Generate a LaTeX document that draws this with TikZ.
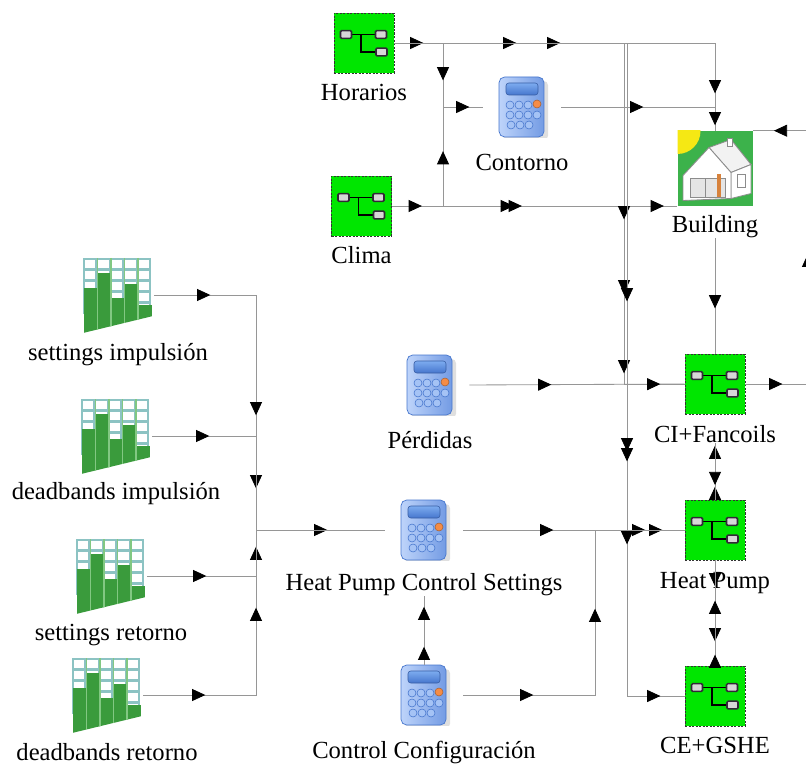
\documentclass[tikz,border=0pt]{standalone}
\usepackage{fontspec}
\setmainfont{Liberation Serif}
\usetikzlibrary{positioning,arrows.meta,decorations.markings}

\definecolor{tcgreen}{RGB}{0,230,0}
\definecolor{wirec}{RGB}{150,150,150}
\definecolor{sqfill}{RGB}{215,215,215}
\definecolor{sqedge}{RGB}{50,40,55}
\definecolor{calcL}{RGB}{190,212,250}
\definecolor{calcR}{RGB}{115,155,228}
\definecolor{calcT}{RGB}{125,172,240}
\definecolor{calcD}{RGB}{70,118,205}
\definecolor{calcB}{RGB}{165,195,245}
\definecolor{calcO}{RGB}{245,140,70}
\definecolor{bldgreen}{RGB}{60,178,75}
\definecolor{sun}{RGB}{245,232,20}
\definecolor{doororange}{RGB}{215,130,60}
\definecolor{bargreen}{RGB}{58,155,60}
\definecolor{barline}{RGB}{130,200,130}
\definecolor{cellline}{RGB}{140,195,195}

\newcommand\lblfont{\fontsize{17.5}{20}\selectfont}

\tikzset{
  >={Triangle[length=0.33cm,width=0.3cm,color=black]},
  wire/.style={draw=wirec, line width=0.6pt},
  % arrow heads along a wire, distance from its start in px
  arr/.style={postaction={decorate,decoration={markings,
      mark=at position #1*0.025cm with {\arrow{>}}}}},
  lbl/.style={font=\lblfont, text=black, inner sep=0pt},
  housel/.style={draw=black!45, line width=0.6pt},
  % equation/type boxes
  tcbox/.style={draw=black!80, dash pattern=on 1.5pt off 1pt, line width=0.5pt,
    fill=tcgreen, minimum width=1.5cm, minimum height=1.5cm, inner sep=0pt,
    path picture={
      \begin{scope}[shift={(path picture bounding box.center)}, solid]
        \draw[black, line width=1.3pt] (-12,-8.5) -- (11,-8.5) (-3,-8.5) -- (-3,9) -- (12,9);
        \foreach \x/\y in {-18/-8.5, 17/-8.5, 17.5/9}
          \draw[fill=sqfill, draw=sqedge, line width=1.1pt, rounded corners=0.8pt]
            (\x,\y) +(-5.5,-3.8) rectangle +(5.5,3.8);
      \end{scope}}},
  % calculators
  calc/.style={minimum width=1.95cm, minimum height=1.5cm, inner sep=0pt,
    path picture={
      \begin{scope}[shift={(path picture bounding box.center)}]
        \fill[black!35, opacity=0.35, rounded corners=3pt] (-19,-26) rectangle (26,33);
        \draw[draw=calcD, line width=0.5pt, left color=calcL, right color=calcR,
          rounded corners=4pt] (-23,-30) rectangle (22,30);
        \draw[draw=calcD!80!black, line width=0.4pt, top color=calcT, bottom color=calcD,
          rounded corners=2pt] (-16,-24) rectangle (16,-12);
        \foreach \x/\y in {-12/-2, -3/-2, 6/-2, -12/8, -3/8, 6/8, 15/8, -11/18, -2/18, 7/18}
          \draw[fill=calcB, draw=calcD, line width=0.4pt] (\x,\y) circle (4);
        \draw[fill=calcO, draw=calcO!70!black, line width=0.4pt] (15,-3) circle (4);
      \end{scope}}},
  % the building
  bld/.style={minimum width=1.875cm, minimum height=1.875cm, inner sep=0pt,
    fill=bldgreen,
    path picture={
      \begin{scope}[shift={(path picture bounding box.center)}]
        \fill[sun] (-37.5,-37.5) circle (23);
        \draw[housel, fill=black!5] (-6,-21) -- (16,-29) -- (36,-4) -- (16,4) -- cycle;
        \draw[housel, fill=white] (16,4) -- (36,-4) -- (36,25) -- (16,30) -- cycle;
        \draw[housel, fill=white] (-32,32) -- (-32,7) -- (-6,-21) -- (16,4) -- (16,30) -- cycle;
        \draw[housel, fill=black!10] (-25,10) rectangle (10,29);
        \draw[housel] (-10,10) -- (-10,29);
        \fill[doororange] (2,6) rectangle (6,29);
        \draw[housel, fill=white] (12,-30) rectangle (17,-22);
        \draw[housel, fill=white] (22,6) rectangle (30,19);
      \end{scope}}},
  % data readers
  reader/.style={minimum width=1.8cm, minimum height=1.875cm, inner sep=0pt,
    path picture={
      \begin{scope}[shift={(path picture bounding box.center)}]
        \clip (-35,-37) -- (35,-37) -- (35,21) -- (-35,38) -- cycle;
        \foreach \i in {0,...,4}
          \foreach \j in {0,...,4}
            \draw[cellline, fill=white, line width=0.8pt]
              (-34+13.5*\i,-36+11*\j) rectangle ++(12,10);
        \foreach \i/\t in {0/-7, 1/-22, 2/3, 3/-11, 4/10}
          \fill[bargreen] (-34+13.5*\i,\t) rectangle ++(13.5,60);
        \foreach \i in {1,...,4}
          \draw[barline, line width=0.8pt] (-34+13.5*\i,-37) -- (-34+13.5*\i,40);
      \end{scope}}},
}

\begin{document}
\begin{tikzpicture}[x=0.025cm, y=-0.025cm]
\path[use as bounding box, fill=white] (0,0) rectangle (806,766);

% components
\node[tcbox] (hor) at (364,43) {};
\node[tcbox] (clima) at (361.5,206) {};
\node[calc] (cont) at (522,107) {};
\node[bld] (bld) at (715,168.5) {};
\node[calc] (perd) at (430,385) {};
\node[tcbox] (ci) at (715,384) {};
\node[tcbox] (hp) at (715,530) {};
\node[tcbox] (ce) at (715,696) {};
\node[calc] (hpcs) at (424,530) {};
\node[calc] (ccfg) at (424,695) {};
\node[reader] (simp) at (118,295) {};
\node[reader] (dimp) at (116,436) {};
\node[reader] (sret) at (111,576) {};
\node[reader] (dret) at (107,695) {};

% names under the icons
\node[lbl, below=0.27cm of hor] (horl) {Horarios};
\node[lbl, below=0.25cm of clima] (climal) {Clima};
\node[lbl, below=0.42cm of cont] (contl) {Contorno};
\node[lbl, below=0.23cm of bld] (bldl) {Building};
\node[lbl, below=0.4cm of perd] (perdl) {Pérdidas};
\node[lbl, below=0.27cm of ci] (cil) {CI+Fancoils};
\node[lbl, below=0.3cm of hp] (hpl) {Heat Pump};
\node[lbl, below=0.27cm of ce] (cel) {CE+GSHE};
\node[lbl, below=0.33cm of hpcs] (hpcsl) {Heat Pump Control Settings};
\node[lbl, below=0.4cm of ccfg] (ccfgl) {Control Configuración};
\node[lbl, below=0.25cm of simp] (simpl) {settings impulsión};
\node[lbl, below=0.22cm of dimp] (dimpl) {deadbands impulsión};
\node[lbl, below=0.25cm of sret] (sretl) {settings retorno};
\node[lbl, below=0.25cm of dret] (dretl) {deadbands retorno};

% junctions
\coordinate (hsplit) at (443,43);
\coordinate (csplit) at (443,206);
\coordinate (cjoin) at (443,107);
\coordinate (busA) at (624,43);
\coordinate (busB) at (627,43);
\coordinate (ccturn) at (595,695);
\coordinate (loop) at (808,384);
\coordinate (bus) at (256,530);

% weather and schedules
\draw[wire, arr=29, arr=122, arr=166, arr=371] (hor.east) -| (bld.north);
\draw[wire, arr=86, arr=139] (hor.east) -- (hsplit) -- (cjoin) -- (cont.west);
\draw[wire, arr=106] (clima.east) -- (csplit) -- (cjoin);
\draw[wire, arr=82, arr=172] (cont.east) -| (bld.north);
\draw[wire, arr=30, arr=122, arr=130, arr=272] (clima.east) -- (clima.east -| bld.west);
\draw[wire, arr=406, arr=480, arr=560] (hor.east) -- (busA) -- (busA |- ci.west) -- (ci.west);
\draw[wire, arr=491, arr=641, arr=651, arr=734, arr=919]
  (hor.east) -- (busB) -- (busB |- ce.west) -- (ce.west);

% building and terminal units
\draw[wire, arr=70] (bldl.south) -- (ci.north);
\draw[wire, arr=82, arr=191] (perd.east) -- (ci.west);
\draw[wire, arr=37, arr=193, arr=350]
  (ci.east) -- (loop) -- (loop |- bld.north east) -- (bld.north east);

% hydraulic loop
\draw[wire, arr=13, arr=54] (hp.north) -- (cil.south);
\draw[wire, arr=42] (cil.south) -- (hp.north);
\draw[wire, arr=26, arr=81] (hp.south) -- (ce.north);
\draw[wire, arr=11, arr=65] (ce.north) -- (hp.south);

% control
\draw[wire, arr=90, arr=182, arr=199] (hpcs.east) -- (hp.west);
\draw[wire, arr=70, arr=218] (ccfg.east) -- (ccturn) -- (ccturn |- hp.west) -- (hp.west);
\draw[wire, arr=18, arr=58] (ccfg.north) -- (hpcsl.south);

% set points
\draw[wire, arr=56, arr=222, arr=295, arr=408]
  (simp.east) -- (simp.east -| bus) -- (bus) -- (hpcs.west);
\draw[wire, arr=57] (dimp.east) -- (dimp.east -| bus) -- (bus) -- (hpcs.west);
\draw[wire, arr=59, arr=138] (sret.east) -- (sret.east -| bus) -- (bus) -- (hpcs.west);
\draw[wire, arr=62, arr=200] (dret.east) -- (dret.east -| bus) -- (bus) -- (hpcs.west);
\end{tikzpicture}
\end{document}
